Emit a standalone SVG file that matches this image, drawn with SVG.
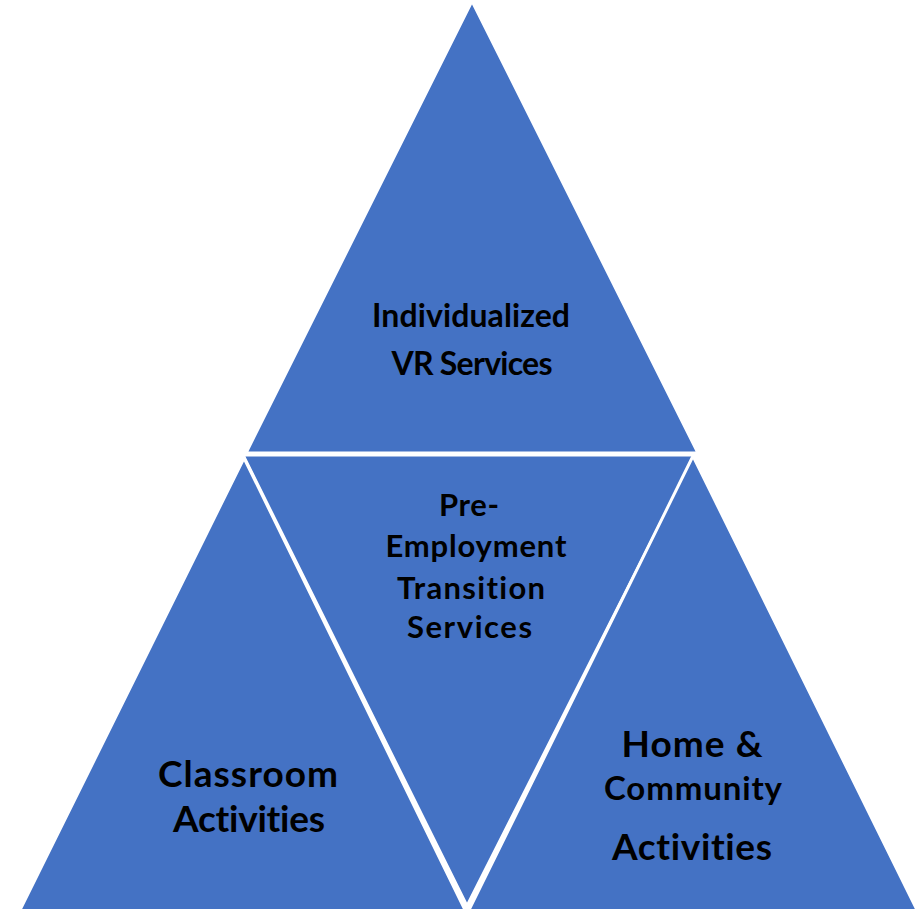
<svg xmlns="http://www.w3.org/2000/svg" width="915" height="909" viewBox="0 0 915 909">
<style>
.tri{fill:#4472C4;stroke:#FFFFFF;stroke-width:3;stroke-linejoin:miter}
.t{font-family:Lato,"Open Sans","Liberation Sans",sans-serif;font-weight:bold;fill:#000;text-anchor:middle;font-variant-ligatures:none}
.s31{font-size:32px}
.s30{font-size:31px}
.s32{font-size:33px}
.s36{font-size:37px}
</style>
<rect width="915" height="909" fill="#FFFFFF"/>
<g id="top">
<polygon class="tri" points="472,1 246,453 698,453"/>
<text class="t s31" x="471" y="327" textLength="198" lengthAdjust="spacing">Individualized</text>
<text class="t s31" x="472" y="375" textLength="161" lengthAdjust="spacing">VR Services</text>
</g>
<g id="middle">
<polygon class="tri" points="243,455 695,455 467,906"/>
<text class="t s30" x="469" y="516" textLength="60" lengthAdjust="spacing">Pre-</text>
<text class="t s30" x="476" y="557" textLength="181" lengthAdjust="spacing">Employment</text>
<text class="t s30" x="471" y="599" textLength="148" lengthAdjust="spacing">Transition</text>
<text class="t s30" x="469.5" y="638" textLength="125" lengthAdjust="spacing">Services</text>
</g>
<g id="left">
<polygon class="tri" points="244,458 19,912 466,912"/>
<text class="t s36" x="248" y="787" textLength="180" lengthAdjust="spacing">Classroom</text>
<text class="t s36" x="249" y="832" textLength="152" lengthAdjust="spacing">Activities</text>
</g>
<g id="right">
<polygon class="tri" points="693,456 468,912 918,912"/>
<text class="t s36" x="692" y="757" textLength="141" lengthAdjust="spacing">Home &amp;</text>
<text class="t s32" x="693" y="800" textLength="178" lengthAdjust="spacing">Community</text>
<text class="t s36" x="692" y="860" textLength="160" lengthAdjust="spacing">Activities</text>
</g>
<g id="connectors"></g>
</svg>
